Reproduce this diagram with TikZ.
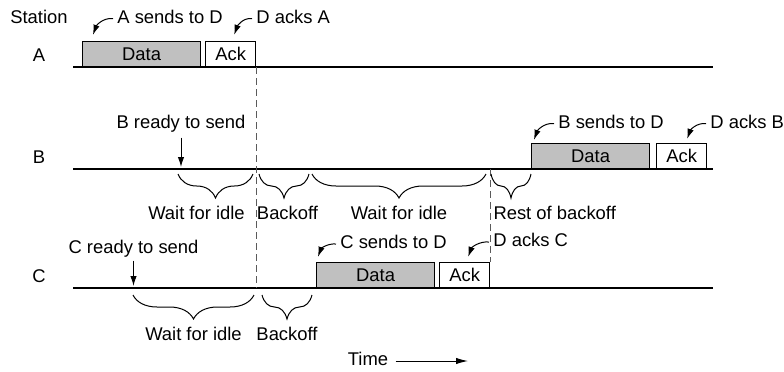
\documentclass[tikz,border=0pt]{standalone}
\usepackage{fontspec}
\setmainfont{Liberation Sans}
\usetikzlibrary{positioning,arrows.meta,decorations.pathreplacing}
\definecolor{datagray}{RGB}{192,192,192}
\definecolor{dashgray}{RGB}{90,90,90}

\begin{document}
\begin{tikzpicture}[x=0.5pt, y=-0.5pt, font=\fontsize{9.2}{11}\selectfont,
    lbl/.style={inner sep=0pt, text height=6.7pt, text depth=1.9pt},
    databox/.style={draw, line width=0.6pt, fill=datagray, minimum width=59pt, minimum height=12.5pt, inner sep=0pt, anchor=south west},
    ackbox/.style={draw, line width=0.6pt, fill=white, minimum width=25pt, minimum height=12.5pt, inner sep=0pt},
    timeline/.style={line width=0.7pt},
    idle/.style={draw=dashgray, line width=0.5pt, dash pattern=on 3.5pt off 2pt},
    callout/.style={line width=0.5pt, -{Latex[length=5pt,width=3.2pt]}},
    brace/.style={decorate, decoration={brace, mirror, amplitude=12pt}, line width=0.5pt},
    bracelbl/.style={lbl, midway, below=16pt}]
\useasboundingbox (0,0) rectangle (784,371);

% stations and their time lines
\node[lbl] (station) at (39,18.5) {Station};
\foreach \s/\y in {A/67,B/169,C/288} {
    \node[lbl] (lbl\s) at (39,\y-10) {\s};
    \coordinate (start\s) at (73,\y);
    \coordinate (end\s) at (713,\y);
    \draw[timeline] (start\s) -- (end\s);
}

% frames
\node[databox] (dataA) at (82,67) {Data};
\node[ackbox, right=2pt of dataA] (ackA) {Ack};
\node[databox] (dataB) at (531,169) {Data};
\node[ackbox, right=3pt of dataB] (ackB) {Ack};
\node[databox] (dataC) at (316,288) {Data};
\node[ackbox, right=2pt of dataC] (ackC) {Ack};

% end of busy medium
\draw[idle] (ackA.south east) -- (ackA.south east |- startC);
\draw[idle] (ackC.north east |- startB) -- (ackC.north east);

% callouts
\node[lbl, anchor=west] (asend) at (117,18.5) {A sends to D};
\node[lbl, anchor=west] (aack) at (256,18.5) {D acks A};
\node[lbl, anchor=west] (bsend) at (558,123.5) {B sends to D};
\node[lbl, anchor=west] (back) at (710,123.5) {D acks B};
\node[lbl, anchor=west] (csend) at (340,244) {C sends to D};
\node[lbl, anchor=west] (cack) at (493,242) {D acks C};
\draw[callout] ([xshift=-2pt]asend.west) to[out=175,in=70] ([shift={(5.5pt,3pt)}]dataA.north west);
\draw[callout] ([xshift=-2pt]aack.west) to[out=175,in=70] ([shift={(14.5pt,3pt)}]ackA.north west);
\draw[callout] ([xshift=-2pt]bsend.west) to[out=175,in=70] ([shift={(1.5pt,1.5pt)}]dataB.north west);
\draw[callout] ([xshift=-2pt]back.west) to[out=175,in=70] ([shift={(15.5pt,2pt)}]ackB.north west);
\draw[callout] ([xshift=-2pt]csend.west) to[out=175,in=70] ([shift={(1pt,2.5pt)}]dataC.north west);
\draw[callout] ([xshift=-2pt]cack.west) to[out=175,in=70] ([shift={(14.5pt,2.5pt)}]ackC.north west);

% ready to send
\node[lbl] (bready) at (181,123.5) {B ready to send};
\draw[callout, shorten >=1pt] ([yshift=-2.5pt]bready.south) -- (bready.south |- startB);
\node[lbl] (cready) at (133.5,248.5) {C ready to send};
\draw[callout, shorten >=1pt] ([yshift=-1.5pt]cready.south) -- (cready.south |- startC);

% waiting periods
\draw[brace] (178,174) -- (253,174) node[bracelbl, xshift=-9.5pt] (waitB1) {Wait for idle};
\draw[brace] (259,174) -- (309,174) node[bracelbl, xshift=1.75pt] (backB) {Backoff};
\draw[brace] (312,174) -- (486,174) node[bracelbl] (waitB2) {Wait for idle};
\draw[brace] (491,174) -- (531,174) node[lbl, pos=0, below right=16pt and 1pt] (restB) {Rest of backoff};
\draw[brace] (133,295) -- (254,295) node[bracelbl] (waitC) {Wait for idle};
\draw[brace] (262,295) -- (312,295) node[bracelbl] (backC) {Backoff};

% time axis
\node[lbl] (time) at (368,361) {Time};
\coordinate (timeend) at (468,361);
\draw[line width=0.5pt, -{Latex[length=6pt,width=3.2pt]}] ([xshift=3.5pt]time.east) -- (timeend);
\end{tikzpicture}
\end{document}
